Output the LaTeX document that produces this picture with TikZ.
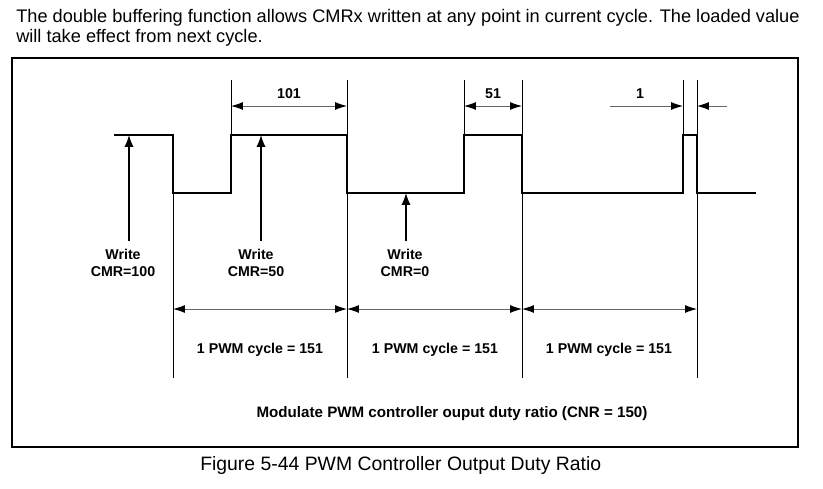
\documentclass[tikz,border=0pt]{standalone}
\usepackage{fontspec}
\setmainfont{Liberation Sans}
\usetikzlibrary{arrows.meta}

\def\punkt#1#2{ ({0.02646*(#1)},{-0.02646*(#2)}) }
\def\grenze#1#2#3{
	\draw[hilf] \punkt{#1}{#2} -- \punkt{#1}{#3};
}

\begin{document}
\begin{tikzpicture}[
	welle/.style={line width=1.1pt,line join=miter},
	hilf/.style={line width=0.7pt},
	rahmen/.style={line width=0.8pt},
	pfeil/.style={line width=1.1pt,-{Latex[length=9pt,width=7pt]}},
	mass/.style={line width=0.7pt,draw=black!60,{Latex[length=9pt,width=6pt,color=black]}-{Latex[length=9pt,width=6pt,color=black]}},
	halbmass/.style={line width=0.7pt,draw=black!60,-{Latex[length=9pt,width=6pt,color=black]}},
	kopf/.style={font=\fontsize{13.7}{16}\selectfont,anchor=base west,inner sep=0pt},
	unter/.style={font=\fontsize{14.6}{17}\selectfont,anchor=base west,inner sep=0pt},
	beschr/.style={font=\bfseries\fontsize{10.7}{12.75}\selectfont,anchor=base,inner sep=0pt},
	schreib/.style={font=\bfseries\fontsize{10.7}{12.75}\selectfont,anchor=north,align=center,inner sep=0pt},
]
\useasboundingbox \punkt{0}{0} rectangle \punkt{823}{488};

% Text oben und Rahmen
\node[kopf] (zeile1) at \punkt{16}{22} {The double buffering function allows CMRx written at any point in current cycle. The loaded value};
\node[kopf] (zeile2) at \punkt{16}{42} {will take effect from next cycle.};
\draw[rahmen] \punkt{12}{58} rectangle \punkt{798}{447};

% Hilfslinien
\foreach \x in {231,464,683}{
	\grenze{\x}{80}{135}
}
\grenze{173}{135}{378}
\foreach \x in {347,522,697}{
	\grenze{\x}{80}{378}
}

% PWM-Signal
\draw[welle] \punkt{114}{135} -- \punkt{173}{135} -- \punkt{173}{193}
	-- \punkt{231}{193} -- \punkt{231}{135} -- \punkt{347}{135}
	-- \punkt{347}{193} -- \punkt{464}{193} -- \punkt{464}{135}
	-- \punkt{522}{135} -- \punkt{522}{193} -- \punkt{683}{193}
	-- \punkt{683}{135} -- \punkt{697}{135} -- \punkt{697}{193}
	-- \punkt{756}{193};

% Pulsbreiten
\path \punkt{231}{106} coordinate (b101a);
\path \punkt{347}{106} coordinate (b101b);
\path \punkt{464}{106} coordinate (b51a);
\path \punkt{522}{106} coordinate (b51b);
\path \punkt{610}{106} coordinate (b1a);
\path \punkt{683}{106} coordinate (b1b);
\path \punkt{727}{106} coordinate (b1c);
\path \punkt{697}{106} coordinate (b1d);
\draw[mass] (b101a) -- (b101b);
\draw[mass] (b51a) -- (b51b);
\draw[halbmass] (b1a) -- (b1b);
\draw[halbmass] (b1c) -- (b1d);
\node[beschr] (w101) at \punkt{289}{98} {101};
\node[beschr] (w51) at \punkt{493}{98} {51};
\node[beschr] (w1) at \punkt{640}{98} {1};

% Schreibzugriffe
\path \punkt{129}{241} coordinate (s100u);
\path \punkt{129}{135} coordinate (s100o);
\path \punkt{261}{241} coordinate (s50u);
\path \punkt{261}{135} coordinate (s50o);
\path \punkt{406}{241} coordinate (s0u);
\path \punkt{406}{193} coordinate (s0o);
\draw[pfeil] (s100u) -- (s100o);
\draw[pfeil] (s50u) -- (s50o);
\draw[pfeil] (s0u) -- (s0o);
\node[schreib] (cmr100) at \punkt{123}{249} {Write\\CMR=100};
\node[schreib] (cmr50) at \punkt{256}{249} {Write\\CMR=50};
\node[schreib] (cmr0) at \punkt{405}{249} {Write\\CMR=0};

% Perioden
\path \punkt{173}{309} coordinate (p0);
\path \punkt{347}{309} coordinate (p1);
\path \punkt{522}{309} coordinate (p2);
\path \punkt{697}{309} coordinate (p3);
\foreach \a/\b in {p0/p1,p1/p2,p2/p3}{
	\draw[mass] (\a) -- (\b);
}
\node[beschr] (zyklus1) at \punkt{260}{353} {1 PWM cycle = 151};
\node[beschr] (zyklus2) at \punkt{435}{353} {1 PWM cycle = 151};
\node[beschr] (zyklus3) at \punkt{609}{353} {1 PWM cycle = 151};

\node[beschr,font=\bfseries\fontsize{11.4}{13}\selectfont] (modul) at \punkt{452}{417} {Modulate PWM controller ouput duty ratio (CNR = 150)};
\node[unter] (bild) at \punkt{200}{470} {Figure 5-44 PWM Controller Output Duty Ratio};
\end{tikzpicture}
\end{document}
